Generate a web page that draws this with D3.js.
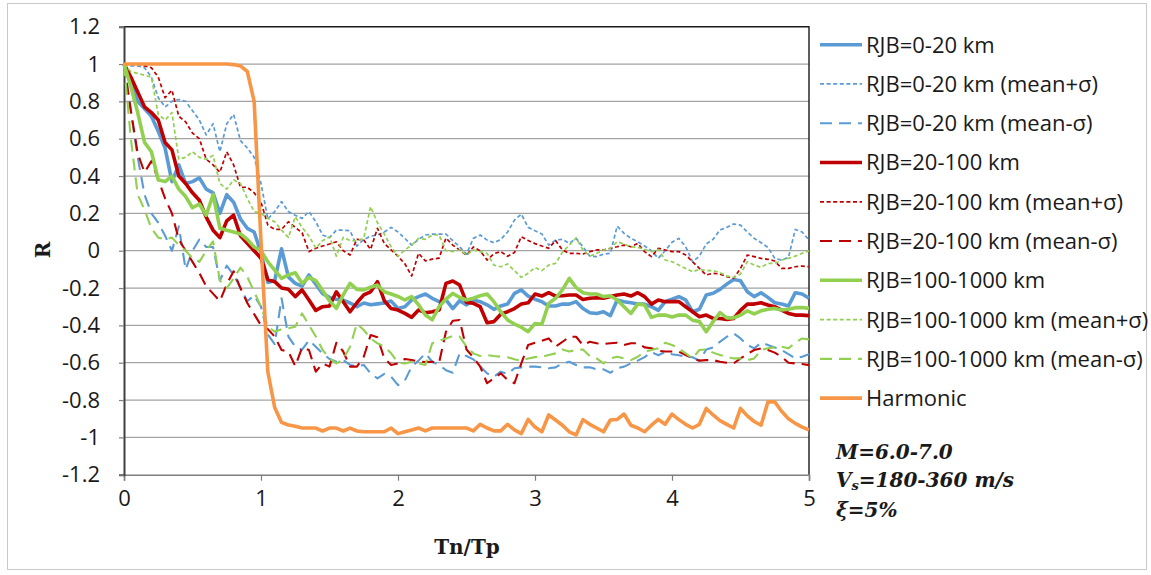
<!DOCTYPE html>
<html>
<head>
<meta charset="utf-8">
<script src="https://cdn.jsdelivr.net/npm/d3@7"></script>
<style>
  body { margin: 0; background: #fff; }
  svg { display: block; font-family: "Open Sans", "Liberation Sans", sans-serif; }
</style>
</head>
<body>
<svg id="chart" width="1151" height="575"></svg>
<script>
// Period ratio Tn/Tp is sampled every 0.05 from 0 to 5
const tnStep = 0.05;

const xTickValues = [0, 1, 2, 3, 4, 5];
const xTickLabels = ["0", "1", "2", "3", "4", "5"];
const yTickValues = [-1.2, -1.0, -0.8, -0.6, -0.4, -0.2, 0, 0.2, 0.4, 0.6, 0.8, 1.0, 1.2];
const yTickLabels = ["-1.2", "-1", "-0.8", "-0.6", "-0.4", "-0.2", "0", "0.2", "0.4", "0.6", "0.8", "1", "1.2"];

const seriesLabels = [
  "RJB=0-20 km", "RJB=0-20 km (mean+σ)", "RJB=0-20 km (mean-σ)",
  "RJB=20-100 km", "RJB=20-100 km (mean+σ)", "RJB=20-100 km (mean-σ)",
  "RJB=100-1000 km", "RJB=100-1000 km (mean+σ)", "RJB=100-1000 km (mean-σ)",
  "Harmonic"
];

// R values, RJB = 0-20 km
const rjb0to20Mean = [
  1.0, 0.9, 0.8, 0.76, 0.72, 0.64, 0.55, 0.37, 0.46, 0.36, 0.37, 0.39, 0.33, 0.31, 0.2, 0.3, 0.26, 0.17, 0.12, 0.1, -0.01,
  -0.17, -0.16, 0.01, -0.14, -0.175, -0.19, -0.13, -0.18, -0.23, -0.25, -0.26, -0.265, -0.28, -0.3, -0.28, -0.29, -0.285, -0.28, -0.27, -0.31,
  -0.3, -0.264, -0.246, -0.232, -0.255, -0.273, -0.264, -0.31, -0.268, -0.29, -0.264, -0.273, -0.29, -0.314, -0.296, -0.286, -0.229, -0.21, -0.243, -0.26,
  -0.273, -0.296, -0.296, -0.286, -0.286, -0.273, -0.31, -0.332, -0.336, -0.327, -0.348, -0.264, -0.273, -0.279, -0.286, -0.286, -0.3, -0.32, -0.273, -0.26,
  -0.246, -0.264, -0.327, -0.314, -0.237, -0.228, -0.207, -0.179, -0.154, -0.161, -0.22, -0.246, -0.225, -0.25, -0.279, -0.286, -0.296, -0.225, -0.232, -0.255
];
const rjb0to20Plus = [
  1.0, 0.99, 0.99, 0.98, 0.93, 0.82, 0.77, 0.8, 0.81, 0.8, 0.75, 0.7, 0.62, 0.68, 0.53, 0.68, 0.73, 0.59, 0.55, 0.5, 0.36,
  0.17, 0.21, 0.263, 0.21, 0.19, 0.173, 0.21, 0.155, 0.084, 0.07, 0.11, 0.11, 0.107, 0.025, 0.06, 0.078, 0.084, 0.1, 0.125, 0.1,
  0.066, 0.03, 0.06, 0.084, 0.089, 0.089, 0.089, 0.054, 0.021, -0.018, 0.066, 0.084, 0.057, 0.043, 0.06, 0.1, 0.164, 0.196, 0.125, 0.107,
  0.09, 0.03, 0.057, 0.061, 0.04, 0.066, 0.021, -0.029, -0.032, -0.018, -0.014, 0.132, 0.093, 0.066, 0.048, 0.025, 0.0, -0.041, 0.0, 0.045,
  0.066, 0.021, -0.059, -0.029, 0.036, 0.061, 0.111, 0.125, 0.143, 0.137, 0.1, 0.066, 0.043, 0.018, -0.041, -0.05, -0.036, 0.114, 0.1, 0.057
];
const rjb0to20Minus = [
  1.0, 0.75, 0.5, 0.3, 0.2, 0.15, 0.08, 0.0, 0.13, -0.1, 0.0, 0.06, 0.02, 0.02, -0.16, -0.08, -0.13, -0.2, -0.27, -0.24, -0.3,
  -0.45, -0.5, -0.255, -0.46, -0.514, -0.53, -0.48, -0.514, -0.55, -0.58, -0.595, -0.586, -0.612, -0.62, -0.612, -0.657, -0.684, -0.66, -0.675, -0.72,
  -0.696, -0.621, -0.589, -0.55, -0.595, -0.612, -0.64, -0.654, -0.55, -0.564, -0.582, -0.621, -0.657, -0.675, -0.648, -0.66, -0.63, -0.625, -0.621, -0.621,
  -0.625, -0.63, -0.625, -0.604, -0.595, -0.612, -0.625, -0.625, -0.636, -0.636, -0.654, -0.63, -0.621, -0.604, -0.589, -0.57, -0.543, -0.56, -0.543, -0.555,
  -0.56, -0.568, -0.571, -0.589, -0.529, -0.518, -0.488, -0.461, -0.443, -0.47, -0.505, -0.523, -0.493, -0.505, -0.518, -0.532, -0.554, -0.577, -0.568, -0.554
];

// R values, RJB = 20-100 km
const rjb20to100Mean = [
  1.0, 0.93, 0.85, 0.77, 0.74, 0.7, 0.58, 0.54, 0.4, 0.36, 0.31, 0.27, 0.18, 0.11, 0.07, 0.16, 0.19, 0.08, 0.04, 0.0, -0.04,
  -0.154, -0.166, -0.2, -0.207, -0.246, -0.21, -0.264, -0.32, -0.3, -0.296, -0.22, -0.273, -0.327, -0.279, -0.237, -0.22, -0.166, -0.268, -0.31, -0.318,
  -0.336, -0.357, -0.318, -0.332, -0.327, -0.318, -0.175, -0.162, -0.184, -0.277, -0.282, -0.3, -0.386, -0.38, -0.34, -0.327, -0.31, -0.286, -0.279, -0.232,
  -0.243, -0.225, -0.243, -0.241, -0.237, -0.237, -0.261, -0.255, -0.252, -0.255, -0.246, -0.237, -0.232, -0.243, -0.225, -0.246, -0.286, -0.264, -0.273, -0.273,
  -0.273, -0.3, -0.327, -0.354, -0.345, -0.363, -0.363, -0.368, -0.363, -0.32, -0.286, -0.286, -0.279, -0.291, -0.3, -0.318, -0.336, -0.345, -0.345, -0.348
];
const rjb20to100Plus = [
  1.0, 1.0, 1.0, 0.99, 0.98, 0.93, 0.82, 0.86, 0.72, 0.69, 0.63, 0.6, 0.49, 0.46, 0.42, 0.53, 0.46, 0.34, 0.34, 0.31, 0.26,
  0.137, 0.114, 0.114, 0.155, 0.125, 0.096, -0.005, 0.013, 0.025, 0.036, 0.048, 0.0, -0.023, 0.061, 0.057, 0.007, 0.12, 0.039, 0.004, -0.03,
  -0.07, -0.136, -0.014, -0.055, -0.045, -0.04, 0.068, 0.03, 0.003, -0.025, 0.02, 0.0, -0.05, -0.016, -0.005, -0.03, -0.01, 0.075, 0.055, 0.038,
  0.025, 0.013, 0.054, 0.004, -0.014, -0.014, -0.018, -0.005, 0.004, 0.004, 0.013, 0.021, 0.03, 0.021, 0.039, -0.005, -0.032, 0.013, 0.004, -0.005,
  -0.005, -0.023, -0.059, -0.095, -0.13, -0.121, -0.125, -0.139, -0.148, -0.095, -0.023, -0.032, -0.041, -0.046, -0.055, -0.095, -0.095, -0.086, -0.082, -0.086
];
const rjb20to100Minus = [
  1.0, 0.75, 0.52, 0.42, 0.48, 0.38, 0.28, 0.2, 0.06, 0.0, -0.06, -0.12, -0.19, -0.23, -0.27, -0.18, -0.11, -0.2, -0.28, -0.34, -0.4,
  -0.42, -0.46, -0.532, -0.54, -0.618, -0.518, -0.532, -0.648, -0.604, -0.621, -0.493, -0.54, -0.621, -0.621, -0.568, -0.452, -0.464, -0.577, -0.612, -0.604,
  -0.58, -0.586, -0.593, -0.596, -0.595, -0.6, -0.434, -0.375, -0.371, -0.529, -0.571, -0.621, -0.71, -0.684, -0.657, -0.693, -0.71, -0.604, -0.505, -0.493,
  -0.482, -0.47, -0.514, -0.489, -0.461, -0.461, -0.506, -0.488, -0.496, -0.5, -0.496, -0.493, -0.505, -0.496, -0.496, -0.518, -0.523, -0.536, -0.54, -0.54,
  -0.541, -0.559, -0.577, -0.589, -0.586, -0.586, -0.595, -0.6, -0.604, -0.577, -0.554, -0.532, -0.523, -0.532, -0.546, -0.568, -0.6, -0.604, -0.607, -0.613
];

// R values, RJB = 100-1000 km
const rjb100to1000Mean = [
  1.0, 0.88, 0.74, 0.58, 0.53, 0.38, 0.37, 0.4, 0.33, 0.29, 0.23, 0.25, 0.19, 0.3, 0.12, 0.11, 0.1, 0.09, 0.06, 0.02, 0.0,
  -0.06, -0.104, -0.148, -0.13, -0.118, -0.175, -0.143, -0.16, -0.214, -0.268, -0.309, -0.237, -0.175, -0.207, -0.21, -0.196, -0.184, -0.22, -0.232, -0.245,
  -0.264, -0.246, -0.29, -0.345, -0.37, -0.3, -0.259, -0.229, -0.25, -0.264, -0.255, -0.241, -0.232, -0.273, -0.327, -0.371, -0.393, -0.41, -0.434, -0.39,
  -0.394, -0.282, -0.255, -0.21, -0.148, -0.198, -0.225, -0.232, -0.232, -0.246, -0.241, -0.264, -0.3, -0.336, -0.286, -0.291, -0.357, -0.345, -0.345, -0.355,
  -0.345, -0.345, -0.372, -0.38, -0.434, -0.38, -0.332, -0.36, -0.36, -0.345, -0.322, -0.339, -0.322, -0.314, -0.309, -0.318, -0.314, -0.305, -0.304, -0.309
];
const rjb100to1000Plus = [
  1.0, 0.96, 0.95, 0.94, 0.93, 0.73, 0.7, 0.74, 0.49, 0.5, 0.53, 0.5, 0.49, 0.51, 0.36, 0.33, 0.38, 0.36, 0.28, 0.21, 0.2,
  0.173, 0.155, 0.11, 0.071, 0.182, 0.125, 0.079, 0.013, 0.054, 0.075, -0.029, 0.071, 0.054, 0.054, 0.066, 0.236, 0.15, 0.089, 0.021, -0.03,
  0.004, 0.03, 0.066, 0.061, 0.084, 0.084, 0.0, -0.005, 0.004, -0.023, 0.004, -0.005, -0.014, -0.077, -0.086, -0.071, -0.107, -0.143, -0.121, -0.09,
  -0.107, -0.077, -0.068, -0.009, 0.03, 0.068, 0.004, -0.029, -0.014, 0.004, 0.013, 0.048, 0.036, 0.021, 0.018, 0.007, -0.005, 0.007, -0.05, -0.059,
  -0.077, -0.095, -0.113, -0.1, -0.107, -0.107, -0.118, -0.136, -0.143, -0.125, -0.059, -0.077, -0.089, -0.068, -0.068, -0.05, -0.041, -0.029, -0.014, 0.0
];
const rjb100to1000Minus = [
  1.0, 0.6, 0.3, 0.22, 0.12, 0.07, 0.06, 0.07, 0.03, 0.0, -0.04, -0.06, 0.0, 0.05, -0.16, -0.2, -0.15, -0.09, -0.14, -0.22, -0.3,
  -0.407, -0.434, -0.42, -0.416, -0.407, -0.336, -0.398, -0.46, -0.532, -0.577, -0.604, -0.582, -0.514, -0.39, -0.425, -0.47, -0.496, -0.514, -0.55, -0.6,
  -0.604, -0.595, -0.604, -0.612, -0.496, -0.482, -0.47, -0.457, -0.46, -0.514, -0.55, -0.564, -0.559, -0.564, -0.568, -0.571, -0.582, -0.589, -0.577, -0.57,
  -0.568, -0.559, -0.55, -0.529, -0.54, -0.532, -0.529, -0.564, -0.577, -0.604, -0.577, -0.568, -0.577, -0.586, -0.568, -0.541, -0.532, -0.523, -0.493, -0.505,
  -0.523, -0.55, -0.577, -0.532, -0.529, -0.546, -0.559, -0.568, -0.577, -0.577, -0.586, -0.577, -0.532, -0.523, -0.518, -0.514, -0.523, -0.493, -0.47, -0.475
];

// Harmonic excitation
const harmonic = [
  1.0, 1.0, 1.0, 1.0, 1.0, 1.0, 1.0, 1.0, 1.0, 1.0, 1.0, 1.0, 1.0, 1.0, 1.0, 1.0, 0.997, 0.99, 0.96, 0.8, 0.05,
  -0.65, -0.84, -0.92, -0.934, -0.94, -0.95, -0.95, -0.95, -0.966, -0.95, -0.95, -0.966, -0.95, -0.966, -0.97, -0.97, -0.97, -0.97, -0.95, -0.98,
  -0.97, -0.96, -0.95, -0.965, -0.95, -0.95, -0.95, -0.95, -0.95, -0.95, -0.965, -0.93, -0.95, -0.965, -0.965, -0.93, -0.96, -0.98, -0.904, -0.945,
  -0.97, -0.88, -0.907, -0.935, -0.97, -0.987, -0.905, -0.93, -0.95, -0.97, -0.907, -0.904, -0.875, -0.935, -0.95, -0.97, -0.935, -0.904, -0.93, -0.875,
  -0.905, -0.93, -0.95, -0.93, -0.845, -0.88, -0.91, -0.93, -0.95, -0.845, -0.885, -0.915, -0.935, -0.81, -0.81, -0.86, -0.9, -0.925, -0.945, -0.96
];

const blue = "#5b9bd5", red = "#c00000", green = "#92d050", orange = "#f79646";
const textColor = "#1a1a1a";
const solid = { width: 3.6, dash: null };
const shortDash = { width: 1.7, dash: "4,2.6" };
const longDash = { width: 2.1, dash: "12,7" };

const series = [
  { label: seriesLabels[0], values: rjb0to20Mean, color: blue, ...solid },
  { label: seriesLabels[1], values: rjb0to20Plus, color: blue, ...shortDash },
  { label: seriesLabels[2], values: rjb0to20Minus, color: blue, ...longDash },
  { label: seriesLabels[3], values: rjb20to100Mean, color: red, ...solid },
  { label: seriesLabels[4], values: rjb20to100Plus, color: red, ...shortDash },
  { label: seriesLabels[5], values: rjb20to100Minus, color: red, ...longDash },
  { label: seriesLabels[6], values: rjb100to1000Mean, color: green, ...solid },
  { label: seriesLabels[7], values: rjb100to1000Plus, color: green, ...shortDash },
  { label: seriesLabels[8], values: rjb100to1000Minus, color: green, ...longDash },
  { label: seriesLabels[9], values: harmonic, color: orange, ...solid }
];

const svg = d3.select("#chart");
const plot = { left: 124, right: 809, top: 26.7, bottom: 474.7 };

// outer chart frame
svg.append("rect")
  .attr("x", 7.5).attr("y", 3.5).attr("width", 1139).attr("height", 566)
  .attr("fill", "#fff").attr("stroke", "#c9c9c9").attr("stroke-width", 1);

const x = d3.scaleLinear().domain([0, 5]).range([plot.left, plot.right]);
const y = d3.scaleLinear().domain([-1.2, 1.2]).range([plot.bottom, plot.top]);

// horizontal gridlines
svg.append("g")
  .selectAll("line")
  .data(yTickValues.filter(v => v > -1.15 && v < 1.15))
  .join("line")
  .attr("x1", plot.left).attr("x2", plot.right)
  .attr("y1", d => y(d)).attr("y2", d => y(d))
  .attr("stroke", "#a3a3a3").attr("stroke-width", 1.2);

// plot frame: top and right edges
svg.append("path")
  .attr("d", `M${plot.left},${plot.top}H${plot.right}V${plot.bottom}`)
  .attr("fill", "none").attr("stroke", "#1a1a1a").attr("stroke-width", 1.4);

// x axis
const xAxis = d3.axisBottom(x)
  .tickValues(xTickValues)
  .tickFormat((d, i) => xTickLabels[i])
  .tickSize(6).tickPadding(10);
const gx = svg.append("g").attr("transform", `translate(0,${plot.bottom})`).call(xAxis)
  .attr("font-family", "Open Sans").attr("font-size", 22);
gx.select(".domain").attr("stroke", "#7f7f7f").attr("stroke-width", 1.6);
gx.selectAll(".tick line").attr("stroke", "#7f7f7f").attr("stroke-width", 1.2);
gx.selectAll(".tick text").attr("fill", textColor);

// y axis
const yAxis = d3.axisLeft(y)
  .tickValues(yTickValues)
  .tickFormat((d, i) => yTickLabels[i])
  .tickSize(5).tickPadding(19);
const gy = svg.append("g").attr("transform", `translate(${plot.left},0)`).call(yAxis)
  .attr("font-family", "Open Sans").attr("font-size", 22);
gy.select(".domain").attr("stroke", "#404040").attr("stroke-width", 2);
gy.selectAll(".tick line").attr("stroke", "#7f7f7f").attr("stroke-width", 1.2);
gy.selectAll(".tick text").attr("fill", textColor);

// data lines
const line = d3.line()
  .x((d, i) => x(i * tnStep))
  .y(d => y(d));

svg.append("g")
  .selectAll("path")
  .data(series)
  .join("path")
  .attr("d", d => line(d.values))
  .attr("fill", "none")
  .attr("stroke", d => d.color)
  .attr("stroke-width", d => d.width)
  .attr("stroke-dasharray", d => d.dash)
  .attr("stroke-linejoin", "round");

// axis titles
svg.append("text")
  .attr("x", 467).attr("y", 554)
  .attr("text-anchor", "middle")
  .attr("font-size", 20).attr("font-weight", "bold")
  .attr("font-family", "DejaVu Serif")
  .attr("fill", textColor)
  .text("Tn/Tp");

svg.append("text")
  .attr("transform", "translate(50,250) rotate(-90)")
  .attr("text-anchor", "middle")
  .attr("font-size", 20).attr("font-weight", "bold")
  .attr("font-family", "DejaVu Serif")
  .attr("fill", textColor)
  .text("R");

// legend
const legend = svg.append("g")
  .attr("font-family", "Open Sans").attr("font-size", 22).attr("fill", textColor);
const rows = legend.selectAll("g")
  .data(series)
  .join("g")
  .attr("transform", (d, i) => `translate(0,${44.7 + i * 39.27})`);
rows.append("line")
  .attr("x1", 820).attr("x2", 862).attr("y1", 0).attr("y2", 0)
  .attr("stroke", d => d.color)
  .attr("stroke-width", d => d.width)
  .attr("stroke-dasharray", d => d.dash);
rows.append("text")
  .attr("x", 866).attr("dy", "0.36em")
  .text(d => d.label);

// record-set description (magnitude, site Vs, damping)
const note = svg.append("g")
  .attr("font-family", "DejaVu Serif")
  .attr("font-weight", "bold").attr("font-style", "italic")
  .attr("font-size", 20).attr("fill", textColor);
const noteX = 836;
note.append("text").attr("x", noteX).attr("y", 459).text("M=6.0-7.0");
const vs = note.append("text").attr("x", noteX).attr("y", 487);
vs.append("tspan").text("V");
vs.append("tspan").attr("dy", 3).attr("font-size", 13).text("s");
vs.append("tspan").attr("dy", -3).text("=180-360 m/s");
note.append("text").attr("x", noteX).attr("y", 517).text("ξ=5%");
</script>
</body>
</html>
